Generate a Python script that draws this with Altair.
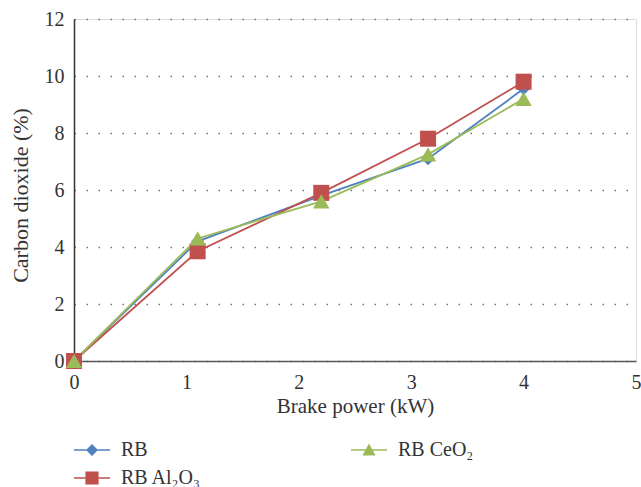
import altair as alt
import pandas as pd

# ---- data ----
brake_power = [0, 1.1, 2.2, 3.15, 4.0]
rb = [0, 4.2, 5.8, 7.1, 9.55]
rb_al2o3 = [0, 3.85, 5.9, 7.8, 9.8]
rb_ceo2 = [0, 4.3, 5.6, 7.25, 9.2]

names = ["RB", "RB Al\u2082O\u2083", "RB CeO\u2082"]
colors = ["#4F81BD", "#C0504D", "#9BBB59"]
x_ticks = [0, 1, 2, 3, 4, 5]
y_ticks = [0, 2, 4, 6, 8, 10, 12]

rows = []
for name, vals in zip(names, [rb, rb_al2o3, rb_ceo2]):
    for xv, yv in zip(brake_power, vals):
        rows.append({"x": xv, "y": yv, "series": name})
df = pd.DataFrame(rows)

FONT = "Liberation Serif"

# vertical legend with 2 columns fills column-major: RB, Al2O3 | CeO2
leg_domain = names
leg_colors = colors
bar = "M-3,-0.13L3,-0.13L3,0.13L-3,0.13Z "
leg_paths = [
    bar + "M0,-1L1,0L0,1L-1,0Z",
    bar + "M-1.1,-1.1L1.1,-1.1L1.1,1.1L-1.1,1.1Z",
    bar + "M0,-1.1L1.1,0.9L-1.1,0.9Z",
]

cscale = alt.Scale(domain=leg_domain, range=leg_colors)

xenc = alt.X(
    "x:Q",
    scale=alt.Scale(domain=[0, 5], nice=False),
    axis=alt.Axis(
        values=x_ticks, title="Brake power (kW)", grid=False, ticks=False,
        domainColor="#555555", domainWidth=1.5, labelPadding=11, labelFlush=False,
        labelFontSize=20, titleFontSize=21, titlePadding=3,
        labelColor="#333333", titleColor="#333333", titleFontWeight="normal",
        labelFont=FONT, titleFont=FONT,
    ),
)
yenc = alt.Y(
    "y:Q",
    scale=alt.Scale(domain=[0, 12], nice=False),
    axis=alt.Axis(
        values=y_ticks, title="Carbon dioxide (%)", grid=True, ticks=False,
        gridDash=[1.5, 10.5], gridColor="#777777", gridWidth=1.5, labelFlush=False,
        domainColor="#333333", domainWidth=1.5, labelPadding=10,
        labelFontSize=20, titleFontSize=22, titlePadding=12, titleY=176,
        labelColor="#333333", titleColor="#333333", titleFontWeight="normal",
        labelFont=FONT, titleFont=FONT,
    ),
)

base = alt.Chart(df)

line_layers = []
for name, col in zip(names, colors):
    line_layers.append(
        base.transform_filter(alt.datum.series == name)
        .mark_line(strokeWidth=1.8, color=col)
        .encode(x=xenc, y=yenc)
    )

shapes = ["diamond", "square", "triangle-up"]
sizes = [169, 256, 270]
point_layers = []
for name, col, shp, sz in zip(names, colors, shapes, sizes):
    point_layers.append(
        base.transform_filter(alt.datum.series == name)
        .mark_point(shape=shp, filled=True, size=sz, color=col, opacity=1)
        .encode(x=xenc, y=yenc)
    )

leg_kwargs = dict(
    title=None, orient="none", legendX=8, legendY=421, columns=2,
    direction="vertical",
    columnPadding=149, rowPadding=8, symbolSize=144, symbolOpacity=1,
    symbolStrokeWidth=0, labelOffset=19, labelFontSize=20, labelFont=FONT,
    labelColor="#333333", labelLimit=300, values=leg_domain,
)
legend_layer = base.mark_point(filled=True, opacity=0).encode(
    x=xenc, y=yenc,
    color=alt.Color("series:N", scale=cscale, sort=leg_domain,
                    legend=alt.Legend(**leg_kwargs)),
    shape=alt.Shape("series:N", scale=alt.Scale(domain=leg_domain, range=leg_paths),
                    sort=leg_domain, legend=alt.Legend(**leg_kwargs)),
)

chart = alt.layer(*line_layers, *point_layers, legend_layer).properties(
    width=562, height=342,
    padding={"left": 74, "top": 19, "right": 5, "bottom": 126},
    autosize="none",
).configure_view(stroke=None).configure(background="white")

chart.save("out.html", embed_options={"renderer": "svg", "actions": False})
